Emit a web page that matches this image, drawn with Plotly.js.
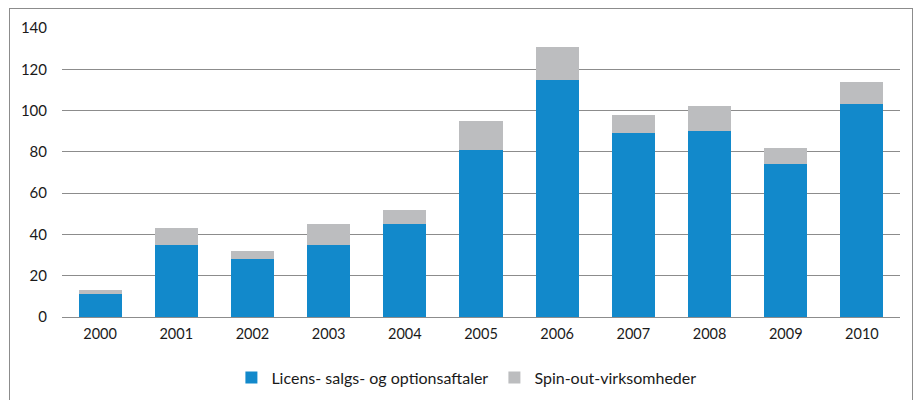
<!DOCTYPE html>
<html>
<head>
<meta charset="utf-8">
<script src="https://cdn.plot.ly/plotly-3.0.1.min.js"></script>
<style>
  body { margin: 0; background: #fff; }
  #plot { position: absolute; left: 0; top: 0; width: 915px; height: 400px; }
  #frame { position: absolute; left: 9px; top: 8px; width: 902px; height: 400px;
           border: 1px solid #8c8c8c; pointer-events: none; }
</style>
</head>
<body>
<div id="plot"></div>
<div id="frame"></div>
<script>
// years on the x axis
var years = ["2000", "2001", "2002", "2003", "2004", "2005", "2006", "2007", "2008", "2009", "2010"];

// licence, sales and option agreements (blue)
var licens = [11, 35, 28, 35, 45, 81, 115, 89, 90, 74, 103];

// spin-out companies (grey, stacked on top)
var spinout = [2, 8, 4, 10, 7, 14, 16, 9, 12, 8, 11];

var trace1 = {
    x: years,
    y: licens,
    type: "bar",
    name: "Licens- salgs- og optionsaftaler",
    marker: { color: "#1289cb", line: { width: 0 } },
    hoverinfo: "y"
};

var trace2 = {
    x: years,
    y: spinout,
    type: "bar",
    name: "Spin-out-virksomheder",
    marker: { color: "#bcbdbf", line: { width: 0 } },
    hoverinfo: "y"
};

var layout = {
    width: 915,
    height: 400,
    barmode: "stack",
    bargap: 0.435,
    margin: { l: 62, r: 15, t: 28, b: 83, autoexpand: false },
    paper_bgcolor: "rgba(0,0,0,0)",
    plot_bgcolor: "#fff",
    font: { family: "Lato, 'Open Sans', sans-serif", size: 14, color: "#1a1a1a" },
    xaxis: {
        type: "category",
        showgrid: false,
        showline: false,
        ticks: "",
        ticklabelstandoff: 6,
        tickfont: { size: 14.5 }
    },
    yaxis: {
        range: [0, 140],
        dtick: 20,
        showgrid: true,
        gridcolor: "#8c8c8c",
        gridwidth: 1,
        zeroline: true,
        zerolinecolor: "#8c8c8c",
        zerolinewidth: 1,
        ticks: "",
        ticklabelstandoff: 14,
        tickfont: { size: 15 }
    },
    showlegend: true,
    legend: {
        orientation: "h",
        x: 0.516,
        xanchor: "center",
        y: -0.21,
        yanchor: "middle",
        font: { size: 16 },
        itemwidth: 30,
        entrywidth: 218,
        traceorder: "normal"
    }
};

Plotly.newPlot("plot", [trace1, trace2], layout, { displayModeBar: false, staticPlot: true });
</script>
</body>
</html>
